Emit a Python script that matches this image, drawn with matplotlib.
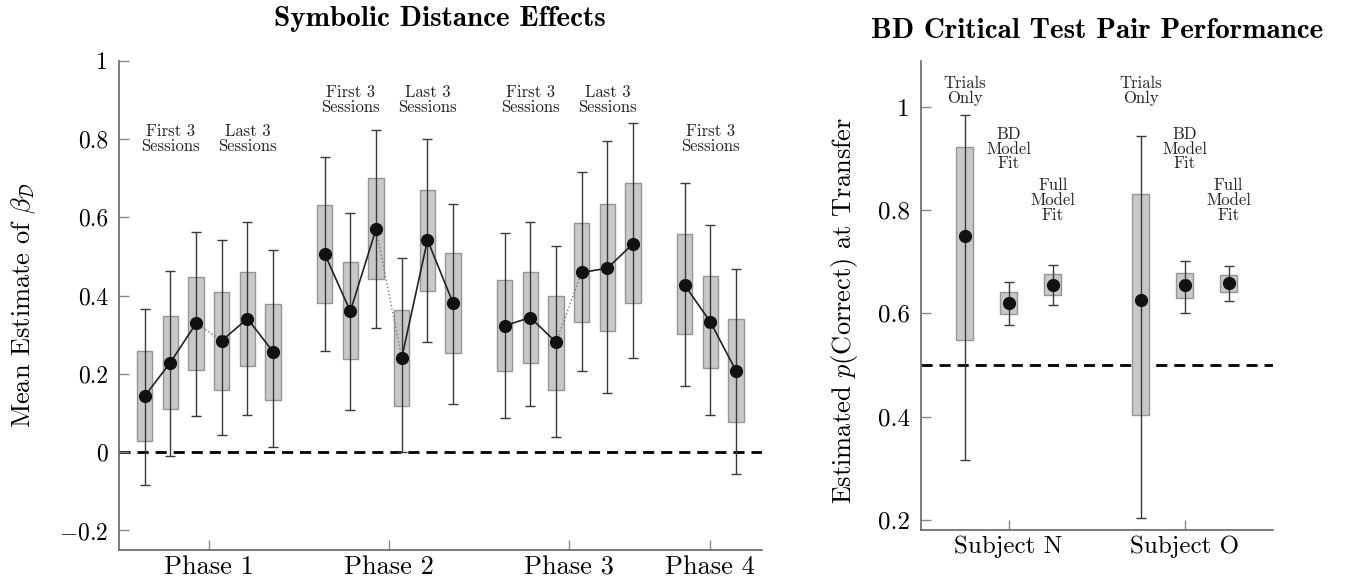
import numpy as np
import matplotlib.pyplot as plt
from matplotlib.patches import Rectangle

# fonte tipo LaTeX (Computer Modern)
plt.rcParams['font.family'] = 'serif'
plt.rcParams['font.serif'] = ['cmr10']
plt.rcParams['mathtext.fontset'] = 'cm'
plt.rcParams['axes.formatter.use_mathtext'] = True

# ---- dados: efeitos de distância simbólica (21 caixas, 3 sessões por bloco)
phases = ['Phase 1', 'Phase 2', 'Phase 3', 'Phase 4']
blocks_per_phase = [2, 2, 2, 1]
block_labels = ['First 3\nSessions', 'Last 3\nSessions']
sde_mean = [0.143, 0.229, 0.329, 0.285, 0.341, 0.256,
            0.507, 0.360, 0.570, 0.241, 0.542, 0.380,
            0.323, 0.344, 0.281, 0.459, 0.470, 0.533,
            0.427, 0.333, 0.208]
sde_box_lo = [0.028, 0.111, 0.209, 0.160, 0.221, 0.134,
              0.380, 0.238, 0.442, 0.117, 0.412, 0.253,
              0.207, 0.228, 0.160, 0.333, 0.310, 0.382,
              0.302, 0.214, 0.077]
sde_box_hi = [0.258, 0.349, 0.448, 0.408, 0.459, 0.379,
              0.631, 0.486, 0.700, 0.364, 0.669, 0.508,
              0.441, 0.460, 0.399, 0.586, 0.635, 0.688,
              0.557, 0.451, 0.340]
sde_wlo = [-0.084, -0.010, 0.093, 0.045, 0.095, 0.012,
           0.258, 0.108, 0.316, 0.000, 0.281, 0.123,
           0.088, 0.117, 0.038, 0.207, 0.152, 0.241,
           0.169, 0.095, -0.055]
sde_whi = [0.367, 0.462, 0.562, 0.541, 0.589, 0.516,
           0.755, 0.612, 0.824, 0.495, 0.799, 0.634,
           0.559, 0.587, 0.526, 0.716, 0.795, 0.841,
           0.687, 0.580, 0.468]

# ---- dados: par crítico BD
subjects = ['Subject N', 'Subject O']
methods = ['Trials\nOnly', 'BD\nModel\nFit', 'Full\nModel\nFit']
bd_mean = [0.750, 0.621, 0.656, 0.626, 0.656, 0.659]
bd_box_lo = [0.548, 0.599, 0.635, 0.403, 0.630, 0.642]
bd_box_hi = [0.923, 0.641, 0.676, 0.832, 0.679, 0.675]
bd_wlo = [0.316, 0.578, 0.616, 0.203, 0.601, 0.625]
bd_whi = [0.984, 0.661, 0.694, 0.944, 0.702, 0.691]

BOX_FC = '#c8c8c8'
BOX_EC = '#959595'
WHISK = '#3a3a3a'


def desenha_caixas(ax, xs, mean, lo, hi, wlo, whi, largura, cap):
    for x, b0, b1 in zip(xs, lo, hi):
        ax.add_patch(Rectangle((x - largura / 2, b0), largura, b1 - b0,
                               facecolor=BOX_FC, edgecolor=BOX_EC, lw=1.0, zorder=2))
    mean = np.array(mean)
    yerr = [mean - np.array(wlo), np.array(whi) - mean]
    ax.errorbar(xs, mean, yerr=yerr, fmt='none', ecolor=WHISK, elinewidth=1.0,
                capsize=cap, capthick=1.0, zorder=3)


def estilo_eixo(ax, ysize):
    for s in ['top', 'right']:
        ax.spines[s].set_visible(False)
    for s in ['left', 'bottom']:
        ax.spines[s].set_color('#666666')
        ax.spines[s].set_linewidth(1.2)
    ax.tick_params(direction='in', length=7, color='#8a8a8a', width=1)
    ax.tick_params(axis='y', labelsize=ysize, pad=8)


fig = plt.figure(figsize=(13.47, 5.85), dpi=100)

# ================= painel esquerdo
ax1 = fig.add_axes([0.0883, 0.0598, 0.4772, 0.8364])
xs1 = []
ticks1 = []
blocos = []  # (inicio, fim, bloco) de cada grupo de 3
for p, nb in enumerate(blocks_per_phase):
    start = 1 + 7 * p
    for b in range(nb):
        bx = [start + 3 * b + s for s in range(3)]
        blocos.append((len(xs1), len(xs1) + 3, b))
        xs1 += bx
    ticks1.append(start + (nb * 3 - 1) / 2)

ax1.axhline(0, color='black', lw=2, ls=(0, (4, 2.5)), zorder=1)
desenha_caixas(ax1, xs1, sde_mean, sde_box_lo, sde_box_hi, sde_wlo, sde_whi, 0.6, 3.6)

# linhas sólidas dentro do bloco, pontilhadas entre blocos da mesma fase
for i0, i1, b in blocos:
    ax1.plot(xs1[i0:i1], sde_mean[i0:i1], color='#222222', lw=1.2, zorder=4)
    if b == 1:
        ax1.plot([xs1[i0 - 1], xs1[i0]], [sde_mean[i0 - 1], sde_mean[i0]],
                 color='#777777', lw=1.0, ls=':', zorder=4)
ax1.plot(xs1, sde_mean, 'o', color='#111111', ms=8.5, zorder=5)

# rótulos dos blocos
for i0, i1, b in blocos:
    xc = xs1[i0 + 1]
    yt = 0.80 if xc < 7 or xc > 21 else 0.90
    ax1.text(xc, yt, block_labels[b], ha='center', va='center', fontsize=12,
             linespacing=0.95, color='#222222')

ax1.set_xlim(0, 25)
ax1.set_ylim(-0.25, 1.0)
ax1.set_xticks(ticks1)
ax1.set_xticklabels(phases, fontsize=19)
ax1.set_yticks([-0.2, 0, 0.2, 0.4, 0.6, 0.8, 1.0])
ax1.set_yticklabels(['$-0.2$', '0', '0.2', '0.4', '0.6', '0.8', '1'])
estilo_eixo(ax1, 17)
ax1.tick_params(axis='x', pad=4)
ax1.set_ylabel(r'Mean Estimate of $\beta_{\mathcal{D}}$', fontsize=19)
ax1.yaxis.set_label_coords(-0.126, 0.5)
fig.text(0.3269, 0.967, 'Symbolic Distance Effects', ha='center', va='center',
         fontsize=21, family='cmb10')

# ================= painel direito
ax2 = fig.add_axes([0.6835, 0.0940, 0.2613, 0.8022])
xs2 = [1 + 4 * k + m for k in range(len(subjects)) for m in range(len(methods))]
ax2.axhline(0.5, color='black', lw=2, ls=(0, (4, 2.5)), zorder=1)
desenha_caixas(ax2, xs2, bd_mean, bd_box_lo, bd_box_hi, bd_wlo, bd_whi, 0.4, 3.6)
ax2.plot(xs2, bd_mean, 'o', color='#111111', ms=8.5, zorder=5)

label_y = [1.031, 0.919, 0.819]
for i, x in enumerate(xs2):
    m = i % 3
    ax2.text(x, label_y[m], methods[m], ha='center', va='center', fontsize=12,
             linespacing=0.95, color='#222222')

ax2.set_xlim(0, 8)
ax2.set_ylim(0.18, 1.09)
ax2.set_xticks([2 + 4 * k for k in range(len(subjects))])
ax2.set_xticklabels(subjects, fontsize=18)
ax2.set_yticks([0.2, 0.4, 0.6, 0.8, 1.0])
ax2.set_yticklabels(['0.2', '0.4', '0.6', '0.8', '1'])
estilo_eixo(ax2, 18)
ax2.tick_params(axis='x', pad=4)
ax2.set_ylabel(r'Estimated $p$(Correct) at Transfer', fontsize=19)
ax2.yaxis.set_label_coords(-0.172, 0.468)
fig.text(0.8142, 0.947, 'BD Critical Test Pair Performance', ha='center',
         va='center', fontsize=21, family='cmb10')

fig.savefig('out.png', dpi=100)
